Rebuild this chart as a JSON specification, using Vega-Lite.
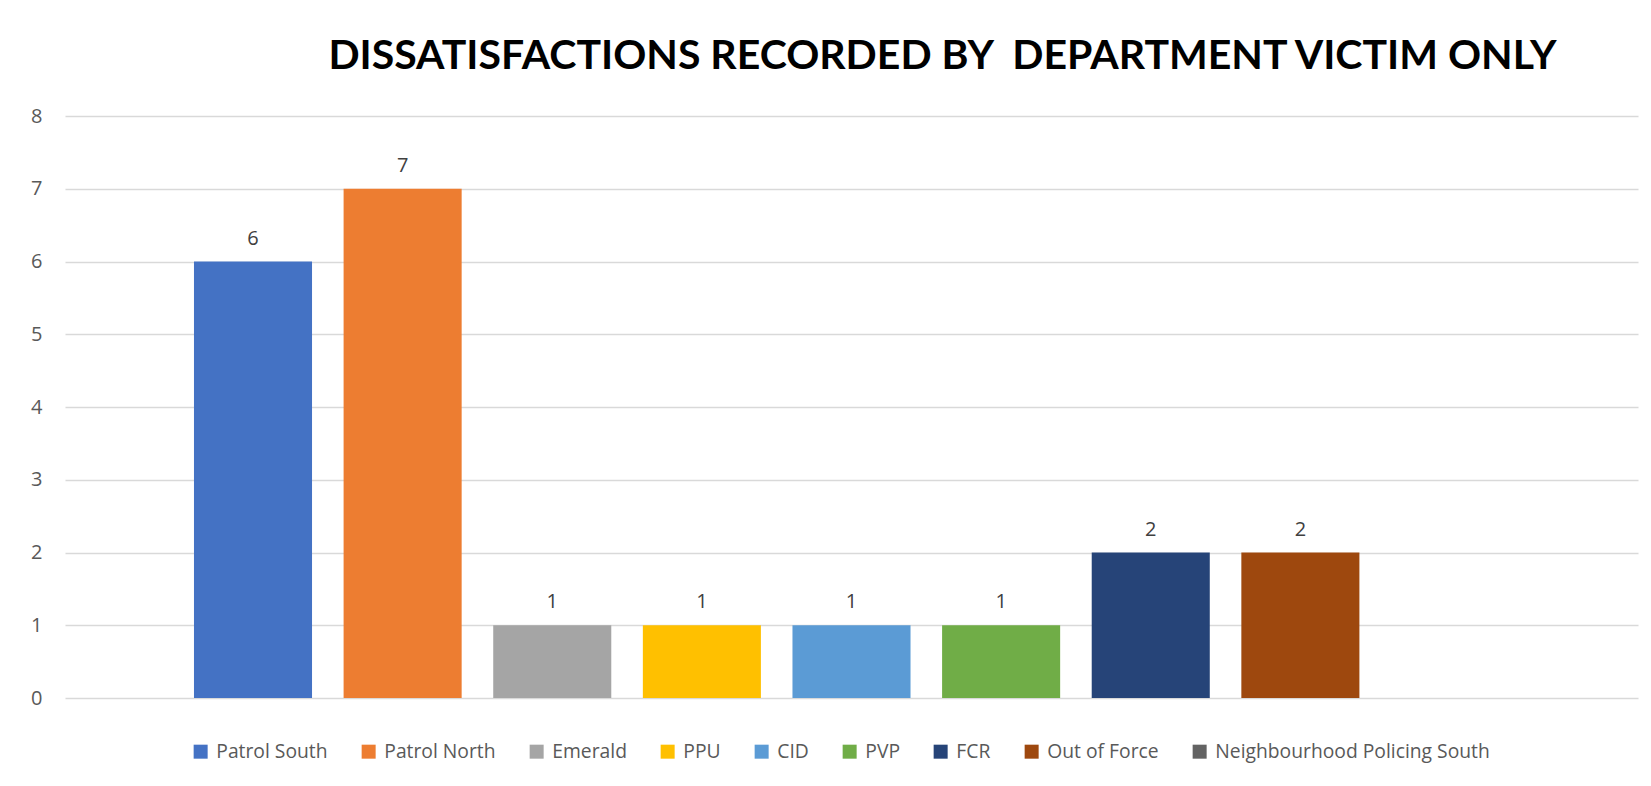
{
  "$schema": "https://vega.github.io/schema/vega-lite/v6.json",
  "autosize": {"type": "none"},
  "width": 1573,
  "height": 582,
  "padding": {"left": 65, "top": 116, "right": 13, "bottom": 88},
  "background": "#FFFFFF",
  "title": {
    "text": "DISSATISFACTIONS RECORDED BY\u00a0 DEPARTMENT VICTIM ONLY",
    "font": "Lato",
    "fontSize": 41,
    "fontWeight": "bold",
    "color": "#000000",
    "anchor": "middle",
    "frame": "group",
    "dx": 91,
    "dy": 49,
    "baseline": "alphabetic",
    "offset": 45
  },
  "data": {
    "values": [
      {"dept": "Patrol South", "count": 6},
      {"dept": "Patrol North", "count": 7},
      {"dept": "Emerald", "count": 1},
      {"dept": "PPU", "count": 1},
      {"dept": "CID", "count": 1},
      {"dept": "PVP", "count": 1},
      {"dept": "FCR", "count": 2},
      {"dept": "Out of Force", "count": 2},
      {"dept": "Neighbourhood Policing South", "count": null}
    ]
  },
  "encoding": {
    "x": {
      "field": "dept",
      "type": "nominal",
      "sort": null,
      "scale": {
        "domain": ["Patrol South", "Patrol North", "Emerald", "PPU", "CID", "PVP", "FCR", "Out of Force", "Neighbourhood Policing South"],
        "paddingInner": 0.211,
        "paddingOuter": 0.862
      },
      "axis": {"title": null, "labels": false, "ticks": false, "domain": false, "grid": false}
    },
    "y": {
      "field": "count",
      "type": "quantitative",
      "scale": {"domain": [0, 8], "nice": false},
      "axis": {
        "title": null,
        "values": [0, 1, 2, 3, 4, 5, 6, 7, 8],
        "ticks": false,
        "domain": false,
        "grid": true,
        "gridColor": "#D9D9D9",
        "gridWidth": 1.5,
        "labelFont": "Open Sans",
        "labelFontSize": 20,
        "labelColor": "#595959",
        "labelPadding": 23
      }
    }
  },
  "layer": [
    {
      "mark": {"type": "bar"},
      "encoding": {
        "color": {
          "field": "dept",
          "type": "nominal",
          "scale": {
            "domain": ["Patrol South", "Patrol North", "Emerald", "PPU", "CID", "PVP", "FCR", "Out of Force", "Neighbourhood Policing South"],
            "range": ["#4472C4", "#ED7D31", "#A5A5A5", "#FFC000", "#5B9BD5", "#70AD47", "#264478", "#9E480E", "#636363"]
          },
          "legend": {
            "title": null,
            "orient": "none",
            "legendX": 126,
            "legendY": 626,
            "direction": "horizontal",
            "columns": 9,
            "columnPadding": 31,
            "symbolType": "square",
            "symbolSize": 196,
            "symbolStrokeWidth": 0,
            "labelOffset": 6,
            "labelFont": "Open Sans",
            "labelFontSize": 19.3,
            "labelColor": "#595959",
            "labelLimit": 0
          }
        }
      }
    },
    {
      "transform": [{"filter": "datum.count != null"}],
      "mark": {
        "type": "text",
        "baseline": "alphabetic",
        "dy": -17,
        "font": "Open Sans",
        "fontSize": 20,
        "color": "#404040"
      },
      "encoding": {"text": {"field": "count", "type": "quantitative"}}
    }
  ],
  "config": {"view": {"stroke": null}}
}
